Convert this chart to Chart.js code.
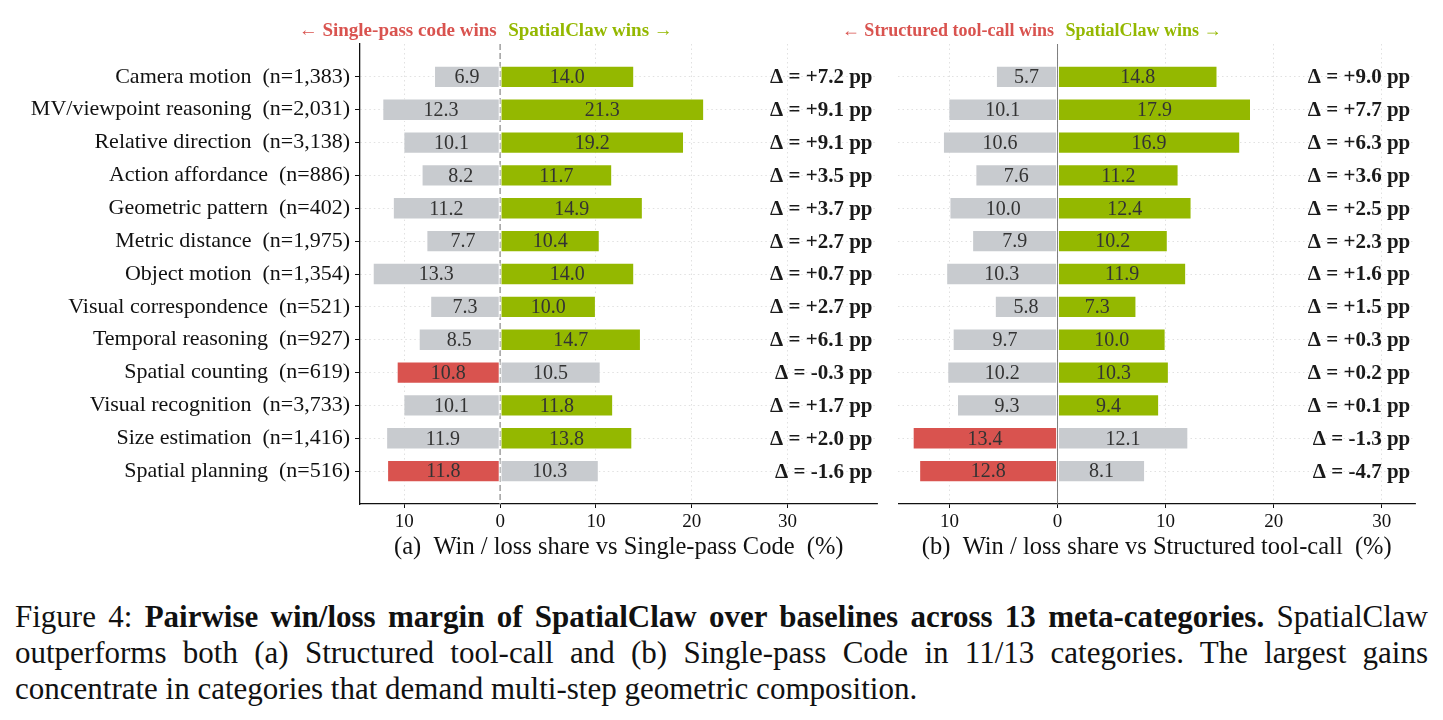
<!DOCTYPE html>
<html><head><meta charset="utf-8">
<script src="https://cdn.jsdelivr.net/npm/chart.js@4.4.1/dist/chart.umd.min.js"></script>
<style>
html,body{margin:0;padding:0;background:#fff;}
body{width:1443px;height:720px;position:relative;overflow:hidden;font-family:"Liberation Serif",serif;}
#cA{position:absolute;left:0;top:0;}
#cB{position:absolute;left:790px;top:0;}
#cap{position:absolute;left:15px;top:599px;width:1413px;font-size:31px;line-height:36px;color:#111;}
#cap div{white-space:nowrap;transform-origin:0 50%;}
</style></head><body>
<canvas id="cA" width="890" height="575" style="width:890px;height:575px"></canvas>
<canvas id="cB" width="653" height="575" style="width:653px;height:575px"></canvas>
<div id="cap">
<div class="j"><span>Figure 4: <b>Pairwise win/loss margin of SpatialClaw over baselines across 13 meta-categories.</b> SpatialClaw</span></div>
<div class="j"><span>outperforms both (a) Structured tool-call and (b) Single-pass Code in 11/13 categories. The largest gains</span></div>
<div><span>concentrate in categories that demand multi-step geometric composition.</span></div>
</div>
<script>
const categories = ["Camera motion", "MV/viewpoint reasoning", "Relative direction", "Action affordance",
  "Geometric pattern", "Metric distance", "Object motion", "Visual correspondence", "Temporal reasoning",
  "Spatial counting", "Visual recognition", "Size estimation", "Spatial planning"];
const counts = ["1,383", "2,031", "3,138", "886", "402", "1,975", "1,354", "521", "927", "619", "3,733", "1,416", "516"];

// (a) vs Single-pass Code
const lossA = [6.9, 12.3, 10.1, 8.2, 11.2, 7.7, 13.3, 7.3, 8.5, 10.8, 10.1, 11.9, 11.8];
const winA  = [14.0, 21.3, 19.2, 11.7, 14.9, 10.4, 14.0, 10.0, 14.7, 10.5, 11.8, 13.8, 10.3];
const deltaA = [7.2, 9.1, 9.1, 3.5, 3.7, 2.7, 0.7, 2.7, 6.1, -0.3, 1.7, 2.0, -1.6];

// (b) vs Structured tool-call
const lossB = [5.7, 10.1, 10.6, 7.6, 10.0, 7.9, 10.3, 5.8, 9.7, 10.2, 9.3, 13.4, 12.8];
const winB  = [14.8, 17.9, 16.9, 11.2, 12.4, 10.2, 11.9, 7.3, 10.0, 10.3, 9.4, 12.1, 8.1];
const deltaB = [9.0, 7.7, 6.3, 3.6, 2.5, 2.3, 1.6, 1.5, 0.3, 0.2, 0.1, -1.3, -4.7];

const xTicks = [-10, 0, 10, 20, 30];
const titleA = "(a)  Win / loss share vs Single-pass Code  (%)";
const titleB = "(b)  Win / loss share vs Structured tool-call  (%)";
const headLossA = "\u2190 Single-pass code wins";
const headLossB = "\u2190 Structured tool-call wins";
const headWin = "SpatialClaw wins \u2192";

const RED = "#d9534f", GREEN = "#94b800", GREY = "#c8cbcf";
const SERIF = "'Liberation Serif', 'Times New Roman', serif";

function makePanel(canvasId, loss, win, delta, cfg) {
  const lossData = loss.map((v, i) => ({x: [-v, 0], y: i}));
  const winData = win.map((v, i) => ({x: [0, v], y: i}));
  const lossColors = loss.map((v, i) => v > win[i] ? RED : GREY);
  const winColors = win.map((v, i) => v > loss[i] ? GREEN : GREY);

  const plugin = {
    id: 'panel_' + canvasId,
    beforeDatasetsDraw(chart) {
      const {ctx, chartArea: a, scales: {x}} = chart;
      const px = x.getPixelForValue(0);
      ctx.save();
      ctx.strokeStyle = cfg.zeroColor;
      ctx.lineWidth = cfg.zeroWidth;
      ctx.setLineDash(cfg.zeroDash);
      ctx.beginPath();
      ctx.moveTo(px, a.top);
      ctx.lineTo(px, a.bottom);
      ctx.stroke();
      ctx.restore();
    },
    afterDatasetsDraw(chart) {
      const {ctx, chartArea: a, scales: {x}} = chart;
      ctx.save();
      ctx.font = "20px " + SERIF;
      ctx.fillStyle = "#333";
      ctx.textAlign = "center";
      ctx.textBaseline = "middle";
      [loss, win].forEach((arr, di) => {
        const meta = chart.getDatasetMeta(di);
        meta.data.forEach((el, i) => {
          const p = el.getProps(['x', 'y', 'base'], true);
          ctx.fillText(arr[i].toFixed(1), (p.x + p.base) / 2, p.y + 1);
        });
      });
      ctx.font = "bold 21px " + SERIF;
      ctx.fillStyle = "#1a1a1a";
      ctx.textAlign = "right";
      const meta0 = chart.getDatasetMeta(0);
      delta.forEach((d, i) => {
        const y = meta0.data[i].getProps(['y'], true).y;
        const s = "\u0394 = " + (d >= 0 ? "+" : "") + d.toFixed(1) + " pp";
        ctx.fillText(s, a.right - 5, y + 1);
      });
      const px = x.getPixelForValue(0);
      ctx.font = "bold " + cfg.headSize + "px " + SERIF;
      ctx.textAlign = "right";
      ctx.fillStyle = RED;
      ctx.fillText(cfg.headLoss, px - 3.5, 31);
      ctx.textAlign = "left";
      ctx.fillStyle = GREEN;
      ctx.fillText(headWin, px + 8, 31);
      ctx.font = "24.5px " + SERIF;
      ctx.fillStyle = "#111";
      ctx.textAlign = "center";
      ctx.fillText(cfg.title, (a.left + a.right) / 2, 548);
      ctx.restore();
    }
  };

  return new Chart(document.getElementById(canvasId), {
    type: 'bar',
    data: {
      datasets: [
        {data: lossData, backgroundColor: lossColors, borderColor: "#ffffff", borderWidth: 1, borderSkipped: false, grouped: false},
        {data: winData, backgroundColor: winColors, borderColor: "#ffffff", borderWidth: 1, borderSkipped: false, grouped: false}
      ]
    },
    options: {
      indexAxis: 'y',
      responsive: false,
      animation: false,
      events: [],
      layout: {padding: {top: 44, right: cfg.padRight, left: 0, bottom: 0}},
      categoryPercentage: 1.0,
      barPercentage: 0.68,
      plugins: {legend: {display: false}, tooltip: {enabled: false}},
      scales: {
        x: {
          type: 'linear',
          min: cfg.xmin, max: cfg.xmax,
          afterBuildTicks: (s) => { s.ticks = xTicks.map(v => ({value: v})); },
          afterFit: (s) => { s.height = 71; },
          ticks: {
            callback: (v) => String(Math.abs(v)),
            font: {family: SERIF, size: 19},
            color: "#111",
            padding: 3,
            maxRotation: 0,
            autoSkip: false
          },
          grid: {
            color: "#d9d9d9", lineWidth: 0.8,
            drawTicks: true, tickLength: 4, tickColor: "#111", tickWidth: 1, tickBorderDash: []
          },
          border: {display: true, color: "#111", width: 1.3, dash: [1.5, 3]}
        },
        y: {
          type: 'linear',
          offset: false,
          reverse: true,
          min: -1, max: 13,
          afterBuildTicks: (s) => { s.ticks = categories.map((c, i) => ({value: i})); },
          afterFit: (s) => { s.width = cfg.yWidth; },
          ticks: {
            display: cfg.showLabels,
            callback: (v) => categories[v] + "  (n=" + counts[v] + ")",
            font: {family: SERIF, size: 22},
            color: "#111",
            padding: 5,
            autoSkip: false
          },
          grid: {
            offset: false,
            color: "#d9d9d9", lineWidth: 0.8,
            drawTicks: cfg.showLabels, tickLength: 5, tickColor: "#111", tickWidth: 1, tickBorderDash: []
          },
          border: {display: cfg.showLabels, color: "#111", width: 1.3, dash: [1.5, 3]}
        }
      }
    },
    plugins: [plugin]
  });
}

makePanel('cA', lossA, winA, deltaA, {
  xmin: -14.63, xmax: 39.4, padRight: 12.5, yWidth: 360, showLabels: true,
  zeroColor: "#a6a6a6", zeroWidth: 1.6, zeroDash: [6, 3],
  headLoss: headLossA, headSize: 19, title: titleA
});
makePanel('cB', lossB, winB, deltaB, {
  xmin: -14.74, xmax: 33.1, padRight: 27.7, yWidth: 108.2, showLabels: false,
  zeroColor: "#707070", zeroWidth: 0.9, zeroDash: [],
  headLoss: headLossB, headSize: 18, title: titleB
});

// justify caption lines to the full width
const W = 1413;
document.querySelectorAll('#cap div.j').forEach(div => {
  const span = div.querySelector('span');
  const w = span.getBoundingClientRect().width;
  const nSpaces = (span.textContent.match(/ /g) || []).length;
  if (w < W) {
    span.style.wordSpacing = ((W - w) / nSpaces) + 'px';
  } else {
    div.style.transform = 'scaleX(' + (W / w) + ')';
  }
});
</script>
</body></html>
